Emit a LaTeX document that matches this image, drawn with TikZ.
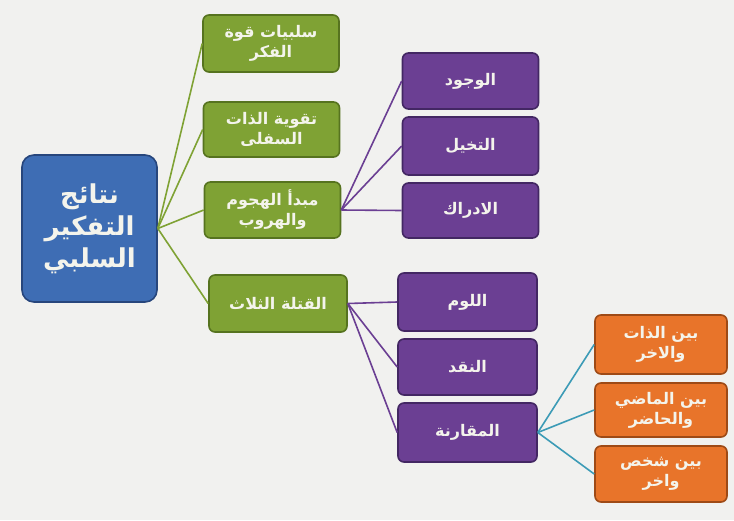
\documentclass[tikz,border=0pt]{standalone}
\usepackage{fontspec}
\TeXXeTstate=1
\newfontfamily\arabicfont[Script=Arabic]{DejaVu Sans Bold}
\definecolor{bgc}{HTML}{F1F1EF}
\definecolor{bluef}{HTML}{3E6DB4}
\definecolor{blued}{HTML}{27467C}
\definecolor{greenf}{HTML}{7FA234}
\definecolor{greend}{HTML}{56731F}
\definecolor{purplef}{HTML}{6B3F93}
\definecolor{purpled}{HTML}{432763}
\definecolor{orangef}{HTML}{E8742A}
\definecolor{oranged}{HTML}{9E4A16}
\definecolor{tealc}{HTML}{3C9BB6}
\definecolor{textc}{HTML}{F4F4EC}
\tikzset{
  box/.style={rectangle, rounded corners=6pt, line width=1.6pt, text=textc,
    align=center, inner sep=2pt, font=\arabicfont\fontsize{16}{20}\selectfont},
  rootbox/.style={box, fill=bluef, draw=blued, rounded corners=12pt,
    minimum width=135pt, minimum height=147pt, font=\arabicfont\fontsize{26}{32}\selectfont},
  gbox/.style={box, fill=greenf, draw=greend, minimum width=136pt},
  pbox/.style={box, fill=purplef, draw=purpled, minimum width=136pt},
  obox/.style={box, fill=orangef, draw=oranged, minimum width=132pt},
  gline/.style={draw=greenf, line width=1.6pt},
  pline/.style={draw=purplef, line width=1.6pt},
  tline/.style={draw=tealc, line width=1.6pt},
}
\newcommand{\AR}[1]{\beginR #1\endR}
\begin{document}
\begin{tikzpicture}[x=1pt,y=-1pt]
\fill[bgc] (0,0) rectangle (734,520);
\useasboundingbox (0,0) rectangle (734,520);

\node[rootbox] (root) at (89.5,228.5) {\AR{نتائج}\\\AR{التفكير}\\\AR{السلبي}};

\node[gbox, minimum height=57pt] (g1) at (271,43.5) {\AR{سلبيات قوة}\\\AR{الفكر}};
\node[gbox, minimum height=55pt] (g2) at (271.5,129.5) {\AR{تقوية الذات}\\\AR{السفلى}};
\node[gbox, minimum height=56pt] (g3) at (272.5,210) {\AR{مبدأ الهجوم}\\\AR{والهروب}};
\node[gbox, minimum height=57pt, minimum width=138pt] (g4) at (278,303.5) {\AR{القتلة الثلاث}};

\node[pbox, minimum height=56pt] (p1) at (470.5,81) {\AR{الوجود}};
\node[pbox, minimum height=58pt] (p2) at (470.5,146) {\AR{التخيل}};
\node[pbox, minimum height=55pt] (p3) at (470.5,210.5) {\AR{الادراك}};
\node[pbox, minimum height=58pt, minimum width=139pt] (p4) at (467.5,302) {\AR{اللوم}};
\node[pbox, minimum height=56pt, minimum width=139pt] (p5) at (467.5,367) {\AR{النقد}};
\node[pbox, minimum height=59pt, minimum width=139pt] (p6) at (467.5,432.5) {\AR{المقارنة}};

\node[obox, minimum height=59pt] (o1) at (661,344.5) {\AR{بين الذات}\\\AR{والاخر}};
\node[obox, minimum height=54pt] (o2) at (661,410) {\AR{بين الماضي}\\\AR{والحاضر}};
\node[obox, minimum height=56pt] (o3) at (661,474) {\AR{بين شخص}\\\AR{واخر}};

\path[gline] (root.east) -- (g1.west);
\path[gline] (root.east) -- (g2.west);
\path[gline] (root.east) -- (g3.west);
\path[gline] (root.east) -- (g4.west);

\path[pline] (g3.east) -- (p1.west);
\path[pline] (g3.east) -- (p2.west);
\path[pline] (g3.east) -- (p3.west);
\path[pline] (g4.east) -- (p4.west);
\path[pline] (g4.east) -- (p5.west);
\path[pline] (g4.east) -- (p6.west);

\path[tline] (p6.east) -- (o1.west);
\path[tline] (p6.east) -- (o2.west);
\path[tline] (p6.east) -- (o3.west);
\end{tikzpicture}
\end{document}
